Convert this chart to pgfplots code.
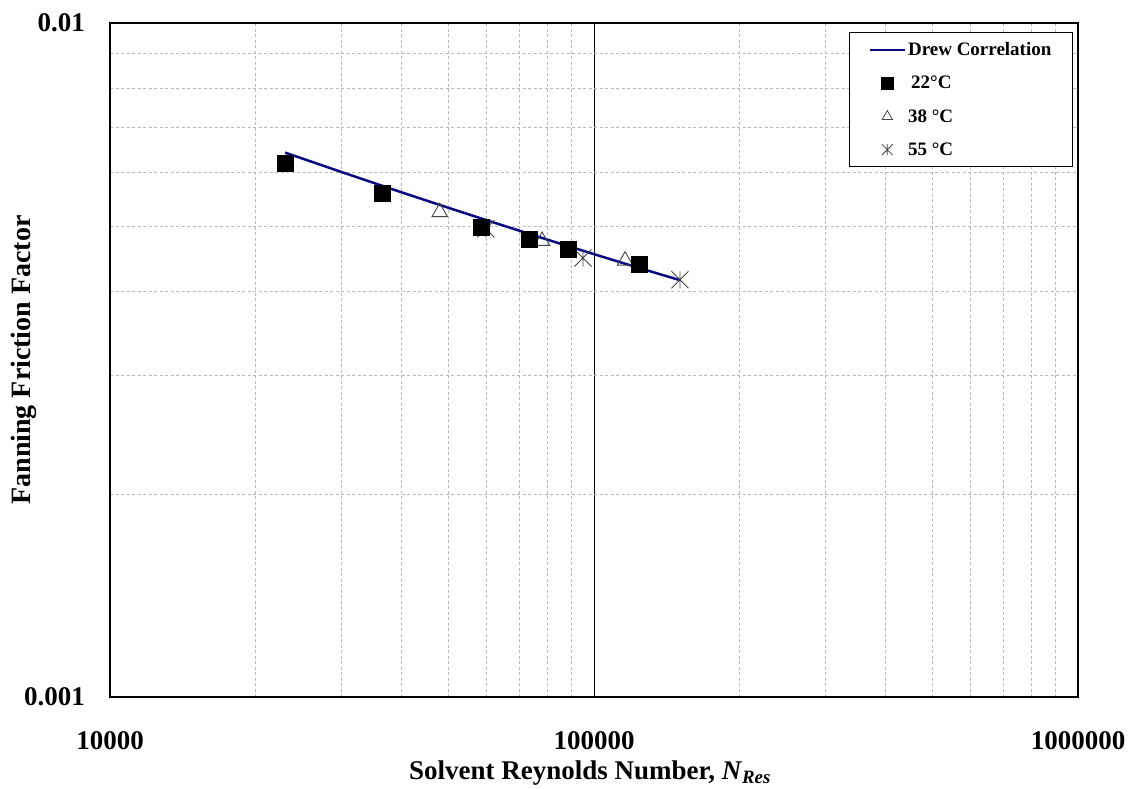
\documentclass[border=0pt]{standalone}
\usepackage{fontspec}
\setmainfont{Liberation Serif}
\usepackage{pgfplots}
\pgfplotsset{compat=1.18}
\definecolor{drew}{RGB}{10,10,130}
\definecolor{mkgray}{RGB}{70,70,70}
\pgfdeclareplotmark{xstar}{%
 \pgfpathmoveto{\pgfqpoint{0pt}{\pgfplotmarksize}}%
 \pgfpathlineto{\pgfqpoint{0pt}{-\pgfplotmarksize}}%
 \pgfpathmoveto{\pgfqpoint{-\pgfplotmarksize}{-\pgfplotmarksize}}%
 \pgfpathlineto{\pgfqpoint{\pgfplotmarksize}{\pgfplotmarksize}}%
 \pgfpathmoveto{\pgfqpoint{-\pgfplotmarksize}{\pgfplotmarksize}}%
 \pgfpathlineto{\pgfqpoint{\pgfplotmarksize}{-\pgfplotmarksize}}%
 \pgfusepathqstroke}
\pgfplotsset{
  lineleg/.style={legend image code/.code={\draw[##1] (0pt,0pt) -- (35pt,0pt);}},
  markleg/.style={legend image code/.code={\path[draw=none] (0pt,-1pt) rectangle (35pt,1pt); \path[##1, draw=none] plot[only marks] coordinates {(17.5pt,0pt)};}},
}
\begin{document}
\begin{tikzpicture}
\path[use as bounding box] (0pt,0pt) rectangle (1135pt,789pt);
\begin{axis}[
  at={(110pt,92pt)}, anchor=south west,
  scale only axis, width=968pt, height=674pt,
  xmode=log, ymode=log,
  xmin=1e4, xmax=1e6, ymin=1e-3, ymax=1e-2,
  xtick={1e4,1e5,1e6},
  xticklabels={\textbf{10000},\textbf{100000},\textbf{1000000}},
  ytick={1e-3,1e-2},
  yticklabels={\textbf{0.001},\textbf{0.01}},
  minor xtick={2e4,3e4,4e4,5e4,6e4,7e4,8e4,9e4,2e5,3e5,4e5,5e5,6e5,7e5,8e5,9e5},
  minor ytick={0.002,0.003,0.004,0.005,0.006,0.007,0.008,0.009},
  major tick length=0pt, minor tick length=0pt,
  grid=both,
  major grid style={black, line width=0.8pt},
  minor grid style={gray!55, dash pattern=on 3pt off 2.5pt, line width=0.8pt},
  axis line style={line width=1.5pt},
  xticklabel style={font=\fontsize{27}{32}\selectfont\bfseries, anchor=center, yshift=-44pt},
  yticklabel style={font=\fontsize{27}{32}\selectfont\bfseries, anchor=east, inner sep=0pt, xshift=-25pt},
  xlabel={\textbf{Solvent Reynolds Number, \textit{N}\textsubscript{\textit{Res}}}},
  ylabel={\textbf{Fanning Friction Factor}},
  xlabel style={font=\fontsize{27}{32}\selectfont\bfseries, at={(axis description cs:0.4959,-0.1128)}, anchor=center},
  ylabel style={font=\fontsize{28}{32}\selectfont\bfseries, at={(axis description cs:-0.0888,0.5)}, anchor=center},
  legend style={at={(rel axis cs:0.9948,0.9866)}, anchor=north east,
    draw=black, line width=1.2pt, fill=white,
    font=\fontsize{19}{23}\selectfont\bfseries,
    inner xsep=19pt, inner ysep=6pt, row sep=11pt,
    nodes={inner xsep=2pt, inner ysep=4pt}},
  legend cell align=left,
]
\addlegendimage{drew, line width=2.5pt, lineleg}
\addlegendentry{Drew Correlation}
\addlegendimage{only marks, mark=square*, mark size=6pt, black, markleg}
\addlegendentry{\,22°C}
\addlegendimage{only marks, mark=triangle, mark size=6pt, mkgray, line width=0.8pt, markleg}
\addlegendentry{38 °C}
\addlegendimage{only marks, mark=xstar, mark size=5.5pt, mkgray, line width=0.8pt, markleg}
\addlegendentry{55 °C}

% 38 C
\addplot[forget plot, only marks, mark=triangle, mark size=9pt, mkgray, line width=0.9pt] coordinates {
(48000,0.00524) (78100,0.00475) (115900,0.00444)
};
% 55 C
\addplot[forget plot, only marks, mark=xstar, mark size=8.5pt, mkgray, line width=0.9pt] coordinates {
(59800,0.00495) (94900,0.00448) (150500,0.00416)
};
% Drew correlation
\addplot[forget plot, drew, line width=2.5pt] coordinates {
(23000,0.006423) (30000,0.006015) (40000,0.005609) (50000,0.005320)
(60000,0.005098) (80000,0.004772) (100000,0.004540) (120000,0.004361)
(150000,0.004157)
};
% 22 C
\addplot[forget plot, only marks, mark=square*, mark size=8pt, black] coordinates {
(23000,0.00620) (36500,0.00559) (58400,0.00498) (73400,0.00477) (88400,0.00462) (123900,0.00439)
};
\end{axis}
\end{tikzpicture}
\end{document}
